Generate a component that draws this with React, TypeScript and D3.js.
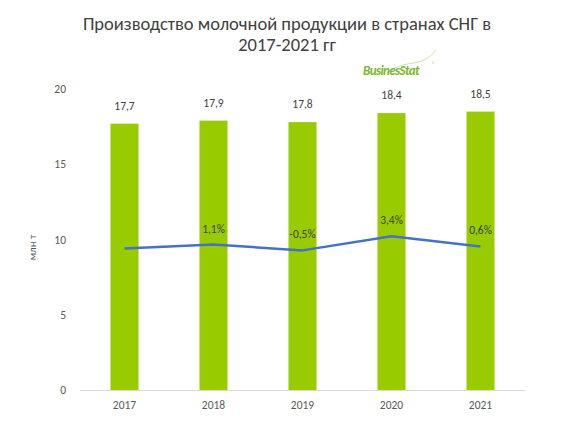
import React from "react";
import * as d3 from "d3";

const years = ["2017", "2018", "2019", "2020", "2021"];
const production = [17.7, 17.9, 17.8, 18.4, 18.5];
const growth = [0.0, 1.1, -0.5, 3.4, 0.6];
const growthLabels = ["", "1,1%", "-0,5%", "3,4%", "0,6%"];
const yTicks = [0, 5, 10, 15, 20];

const width = 565;
const height = 441;
const left = 80;
const right = 525;
const top = 89;
const bottom = 390;

const fmt = (v: number) => v.toFixed(1).replace(".", ",");

const App = () => {
  const x = d3.scaleBand().domain(years).range([left, right]).paddingInner(0.685).paddingOuter(0.3425);
  const y = d3.scaleLinear().domain([0, 20]).range([bottom, top]);
  // hidden secondary axis for the growth line
  const y2 = d3.scaleLinear().domain([-39, 44]).range([bottom, top]);

  const line = d3
    .line<number>()
    .x((d, i) => (x(years[i]) as number) + x.bandwidth() / 2)
    .y(d => y2(d));

  const font = "Calibri, Carlito, 'Open Sans', sans-serif";

  return (
    <svg width={width} height={height} style={{ position: "absolute", left: 0, top: 0, fontFamily: font }}>
      <rect width={width} height={height} fill="#fff" />
      <text x={287} y={30} textAnchor="middle" fontSize={18.5} fill="#404040">
        Производство молочной продукции в странах СНГ в
      </text>
      <text x={287} y={51} textAnchor="middle" fontSize={18.5} fill="#404040">
        2017-2021 гг
      </text>
      <g>
        <path d="M392,70 C400,64 410,64 418,62 C426,60 432,56 436,50" fill="none" stroke="#b9d989" strokeWidth={0.8} />
        <text x={363} y={75} fontSize={13} fontWeight="bold" fontStyle="italic" fill="#76b82a" letterSpacing={-0.6}>
          BusinesStat
        </text>
        <text x={432} y={66} fontSize={5} fill="#76b82a">®</text>
      </g>

      {yTicks.map(t => (
        <text key={t} x={66} y={y(t) + 4} textAnchor="end" fontSize={11.5} fill="#595959">
          {t}
        </text>
      ))}
      <text transform={`translate(36,${(top + bottom) / 2 + 8}) rotate(-90)`} textAnchor="middle" fontSize={11} fill="#595959">
        млн т
      </text>

      {production.map((v, i) => (
        <g key={years[i]}>
          <rect x={x(years[i])} y={y(v)} width={x.bandwidth()} height={bottom - y(v)} fill="#99cc00" />
          <text x={(x(years[i]) as number) + x.bandwidth() / 2} y={y(v) - 14} textAnchor="middle" fontSize={11.5} fill="#404040">
            {fmt(v)}
          </text>
          <text x={(x(years[i]) as number) + x.bandwidth() / 2} y={409} textAnchor="middle" fontSize={11.5} fill="#595959">
            {years[i]}
          </text>
        </g>
      ))}
      <line x1={left} x2={right} y1={bottom + 0.5} y2={bottom + 0.5} stroke="#d9d9d9" strokeWidth={1} />

      <path d={line(growth) as string} fill="none" stroke="#4472c4" strokeWidth={2.5} strokeLinejoin="round" />
      {growth.map((g, i) => (
        <text key={i} x={(x(years[i]) as number) + x.bandwidth() / 2} y={y2(g) - 12} textAnchor="middle" fontSize={11.5} fill="#404040">
          {growthLabels[i]}
        </text>
      ))}
    </svg>
  );
};

export default App;
